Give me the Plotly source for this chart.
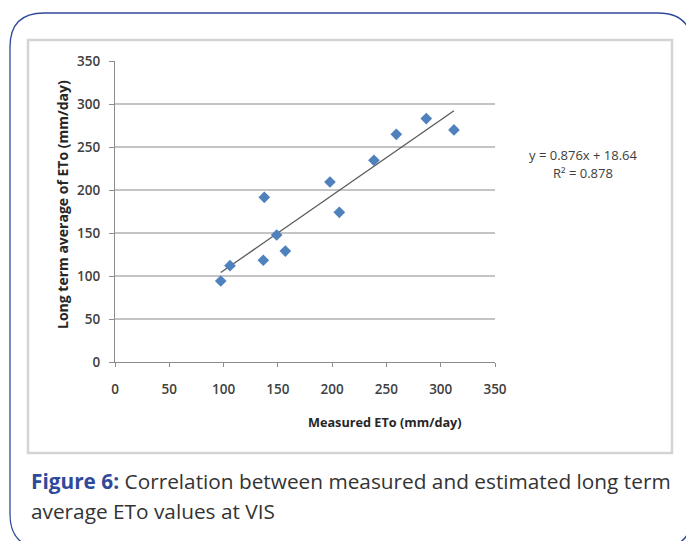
import plotly.graph_objects as go

# ---- data ----
measured_eto = [97.4, 105.9, 137.5, 136.6, 148.9, 156.9, 198.0, 206.6, 238.5, 259.1, 286.7, 312.2]
estimated_eto = [94.2, 112.0, 191.5, 118.3, 147.7, 129.0, 209.3, 174.0, 234.5, 264.7, 283.0, 269.8]
trend_slope = 0.876
trend_intercept = 18.64
r_squared = 0.878
tick_values = [0, 50, 100, 150, 200, 250, 300, 350]

# ---- geometry helpers (pixel -> paper) ----
W, H = 686, 541
L, R, T, B = 115, 191, 61, 179
PW, PH = W - L - R, H - T - B


def px(x):
    return (x - L) / PW


def py(y):
    return (H - B - y) / PH


x_min, x_max = min(measured_eto), max(measured_eto)
trend_x = [x_min, x_max]
trend_y = [trend_slope * v + trend_intercept for v in trend_x]

fig = go.Figure()
fig.add_trace(go.Scatter(
    x=trend_x, y=trend_y, mode="lines",
    line=dict(color="#5a5a5a", width=1.3), showlegend=False, hoverinfo="skip"))
fig.add_trace(go.Scatter(
    x=measured_eto, y=estimated_eto, mode="markers",
    marker=dict(symbol="diamond", size=9, color="#4F81BD"),
    showlegend=False))

tick_font = dict(family="Open Sans", size=13.5, color="#404040", weight=600)

fig.update_xaxes(
    range=[0, 350], tickvals=tick_values, ticktext=[str(v) for v in tick_values],
    showgrid=False, zeroline=False, showline=True, linecolor="#8c8c8c", linewidth=1.3,
    ticks="outside", ticklen=4, tickcolor="#8c8c8c", tickfont=tick_font,
    ticklabelstandoff=11)
fig.update_yaxes(
    range=[0, 350], tickvals=tick_values, ticktext=[str(v) for v in tick_values],
    showgrid=True, gridcolor="#c4c4c4", gridwidth=1.5, zeroline=False,
    showline=True, linecolor="#8c8c8c", linewidth=1.3,
    ticks="outside", ticklen=5, tickcolor="#8c8c8c", tickfont=tick_font,
    ticklabelstandoff=6)


def rounded_path(x0, y0, x1, y1, r):
    def P(x, y):
        return f"{px(x):.5f},{py(y):.5f}"
    d = f"M {P(x0 + r, y0)} L {P(x1 - r, y0)} Q {P(x1, y0)} {P(x1, y0 + r)} "
    d += f"L {P(x1, y1 - r)} Q {P(x1, y1)} {P(x1 - r, y1)} "
    d += f"L {P(x0 + r, y1)} Q {P(x0, y1)} {P(x0, y1 - r)} "
    d += f"L {P(x0, y0 + r)} Q {P(x0, y0)} {P(x0 + r, y0)} Z"
    return d


shapes = [
    dict(type="path", xref="paper", yref="paper",
         path=rounded_path(10, 13, 692, 548, 34),
         line=dict(color="#2f4a9a", width=1.3), layer="below"),
    dict(type="rect", xref="paper", yref="paper",
         x0=px(28), x1=px(672), y0=py(453), y1=py(40),
         line=dict(color="#d4d4d4", width=2.5), layer="below"),
]

ytitle_font = dict(family="Open Sans", size=14, color="#262626", weight=700)
xtitle_font = dict(family="Open Sans", size=12.7, color="#262626", weight=700)
eq_font = dict(family="Open Sans", size=13, color="#404040")
cap_font = dict(family="Open Sans", size=20.8, color="#333333")

annotations = [
    dict(text="Long term average of ETo (mm/day)", xref="paper", yref="paper",
         x=px(62), y=py(205), textangle=-90, showarrow=False,
         xanchor="center", yanchor="middle", font=ytitle_font),
    dict(text="Measured ETo (mm/day)", xref="paper", yref="paper",
         x=px(385), y=py(422), showarrow=False,
         xanchor="center", yanchor="middle", font=xtitle_font),
    dict(text=f"y = {trend_slope}x + {trend_intercept}", xref="paper", yref="paper",
         x=px(583), y=py(155), showarrow=False,
         xanchor="center", yanchor="middle", font=eq_font),
    dict(text=f"R² = {r_squared}", xref="paper", yref="paper",
         x=px(583), y=py(173), showarrow=False,
         xanchor="center", yanchor="middle", font=eq_font),
    dict(text="<b><span style='color:#2f4a9a'>Figure 6:</span></b> Correlation between measured and estimated long term",
         xref="paper", yref="paper", x=px(29), y=py(481), xanchor="left", yanchor="middle",
         showarrow=False, font=cap_font),
    dict(text="average ETo values at VIS",
         xref="paper", yref="paper", x=px(29), y=py(511), xanchor="left", yanchor="middle",
         showarrow=False, font=cap_font),
]

fig.update_layout(
    width=W, height=H, margin=dict(l=L, r=R, t=T, b=B, pad=0),
    paper_bgcolor="white", plot_bgcolor="white",
    shapes=shapes, annotations=annotations, showlegend=False)

fig.write_html("out.html")
